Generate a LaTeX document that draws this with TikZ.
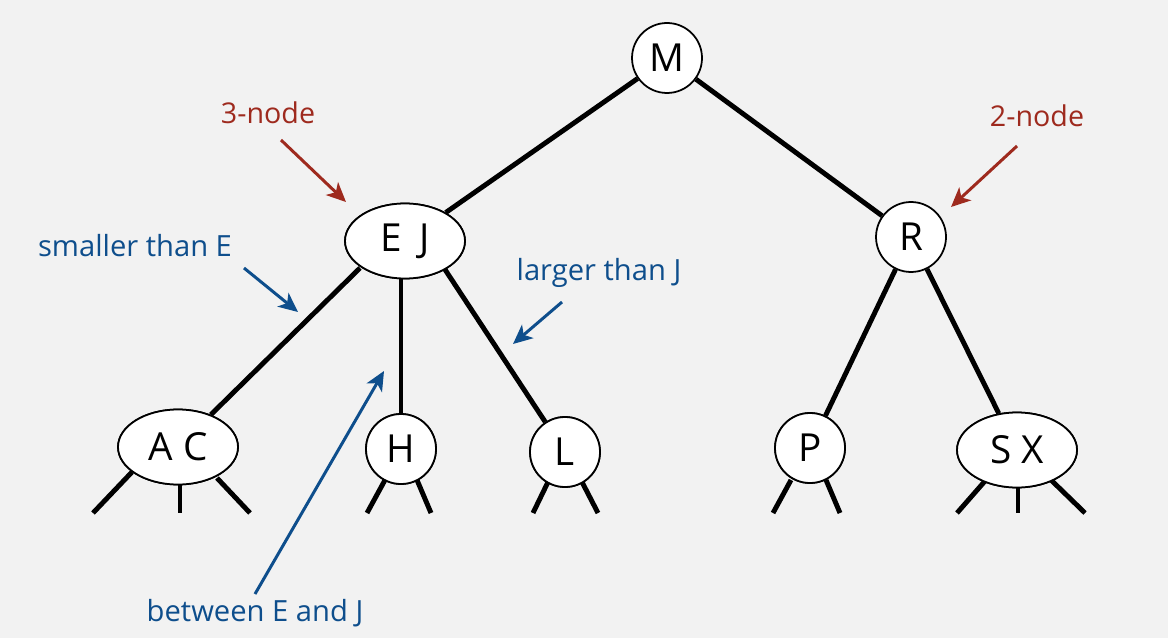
\documentclass[tikz,border=0pt]{standalone}
\usepackage{fontspec}
\setmainfont{Open Sans}
\usetikzlibrary{shapes.geometric,arrows.meta}
\definecolor{bg}{RGB}{242,242,242}
\definecolor{lred}{RGB}{158,42,30}
\definecolor{lblue}{RGB}{14,78,140}
\tikzset{
  px/.style={x=0.02cm,y=-0.02cm},
  twonode/.style={circle,draw=black,line width=1pt,fill=white,minimum size=1.4cm,inner sep=0pt,font=\fontsize{22}{24}\selectfont},
  threenode/.style={ellipse,draw=black,line width=1pt,fill=white,minimum width=2.4cm,minimum height=1.5cm,inner sep=0pt,font=\fontsize{22}{24}\selectfont},
  link/.style={line width=2.8pt},
  redlbl/.style={text=lred,font=\fontsize{16.3}{20}\selectfont,inner sep=0pt},
  bluelbl/.style={text=lblue,font=\fontsize{16.6}{20}\selectfont,inner sep=0pt},
  redarrow/.style={draw=lred,line width=1.7pt,-{Stealth[length=11pt,width=10pt,inset=3pt]}},
  bluearrow/.style={draw=lblue,line width=1.7pt,-{Stealth[length=11pt,width=10pt,inset=3pt]}},
}
\begin{document}
\begin{tikzpicture}[px]
\useasboundingbox[fill=bg] (0,0) rectangle (1168,638);
% nodes
\node[twonode] (M) at (667,58) {M};
\node[threenode] (EJ) at (405,241) {E\hspace{0.45em}J};
\node[twonode] (R) at (911,237) {R};
\node[threenode] (AC) at (178,447) {A C};
\node[twonode] (H) at (401,449) {H};
\node[twonode] (L) at (565,452) {L};
\node[twonode] (P) at (810,448) {P};
\node[threenode] (SX) at (1017,450) {S X};
% stub endpoints
\coordinate (ac1) at (93,513);
\coordinate (ac2) at (180,513);
\coordinate (ac3) at (250,513);
\coordinate (h1) at (367,513);
\coordinate (h2) at (431,513);
\coordinate (l1) at (533,513);
\coordinate (l2) at (598,513);
\coordinate (p1) at (773,513);
\coordinate (p2) at (840,513);
\coordinate (sx1) at (957,513);
\coordinate (sx2) at (1018,513);
\coordinate (sx3) at (1085,513);
\coordinate (ejl) at (360,268);
\coordinate (ejm) at (401,278);
\coordinate (ejr) at (444,268);
\coordinate (acs1) at (132,472);
\coordinate (acs2) at (180,485);
\coordinate (acs3) at (217,478);
\coordinate (hs1) at (385,480);
\coordinate (hs2) at (417,480);
\coordinate (ls1) at (548,482);
\coordinate (ls2) at (582,482);
\coordinate (ps1) at (791,480);
\coordinate (ps2) at (826,480);
\coordinate (sxs1) at (985,481);
\coordinate (sxs2) at (1018,486);
\coordinate (sxs3) at (1050,479);
% links
\draw[link] (M) -- (EJ);
\draw[link] (M) -- (R);
\draw[link] (ejl) -- (AC);
\draw[link] (ejm) -- (H);
\draw[link] (ejr) -- (L);
\draw[link] (R) -- (P);
\draw[link] (R) -- (SX);
\draw[link] (acs1) -- (ac1);
\draw[link] (acs2) -- (ac2);
\draw[link] (acs3) -- (ac3);
\draw[link] (hs1) -- (h1);
\draw[link] (hs2) -- (h2);
\draw[link] (ls1) -- (l1);
\draw[link] (ls2) -- (l2);
\draw[link] (ps1) -- (p1);
\draw[link] (ps2) -- (p2);
\draw[link] (sxs1) -- (sx1);
\draw[link] (sxs2) -- (sx2);
\draw[link] (sxs3) -- (sx3);
% redraw nodes on top
\node[threenode] at (EJ) {E\hspace{0.45em}J};
\node[threenode] at (AC) {A C};
\node[threenode] at (SX) {S X};
\node[twonode] at (H) {H};
\node[twonode] at (L) {L};
\node[twonode] at (P) {P};
% labels
\node[redlbl] (l3) at (268,113) {3-node};
\node[redlbl] (l2n) at (1037,116) {2-node};
\node[bluelbl] (ls) at (135,246) {smaller than E};
\node[bluelbl] (ll) at (599,273) {larger than J};
\node[bluelbl] (lb) at (255,613) {between E and J};
\coordinate (a3s) at (281,140); \coordinate (a3e) at (346,202);
\coordinate (a2s) at (1017,146); \coordinate (a2e) at (951,207);
\coordinate (ass) at (244,268); \coordinate (ase) at (298,312);
\coordinate (als) at (562,302); \coordinate (ale) at (513,344);
\coordinate (abs) at (255,594); \coordinate (abe) at (384,371);
\draw[redarrow] (a3s) -- (a3e);
\draw[redarrow] (a2s) -- (a2e);
\draw[bluearrow] (ass) -- (ase);
\draw[bluearrow] (als) -- (ale);
\draw[bluearrow] (abs) -- (abe);
\end{tikzpicture}
\end{document}
